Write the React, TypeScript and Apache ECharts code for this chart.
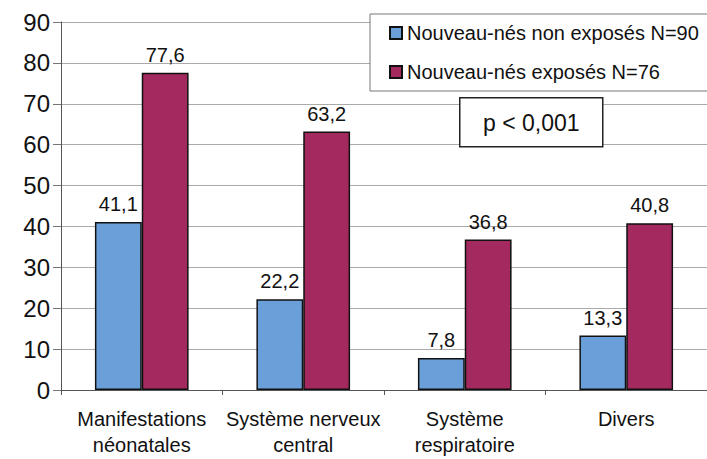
import React, { useEffect, useRef } from "react";
import * as echarts from "echarts";

const categories = [
  "Manifestations\nnéonatales",
  "Système nerveux\ncentral",
  "Système\nrespiratoire",
  "Divers",
];
const seriesNames = ["Nouveau-nés non exposés N=90", "Nouveau-nés exposés N=76"];
const nonExposed = [41.1, 22.2, 7.8, 13.3];
const exposed = [77.6, 63.2, 36.8, 40.8];
const yTicks = [0, 10, 20, 30, 40, 50, 60, 70, 80, 90];
const pText = "p < 0,001";

const FONT = "Liberation Sans, Arial, sans-serif";

export default function App() {
  const ref = useRef<HTMLDivElement>(null);
  useEffect(() => {
    if (!ref.current) return;
    const chart = echarts.init(ref.current, null, { renderer: "svg" });
    const label = {
      show: true,
      position: "top",
      distance: 8,
      color: "#111",
      fontFamily: FONT,
      fontSize: 20,
      formatter: (p: any) => String(p.value).replace(".", ","),
    };
    chart.setOption({
      animation: false,
      backgroundColor: "#fff",
      textStyle: { fontFamily: FONT },
      grid: { left: 61, top: 22, width: 656, height: 368 },
      legend: {
        orient: "vertical",
        left: 370,
        top: 14,
        data: seriesNames,
        itemWidth: 12,
        itemHeight: 12,
        itemGap: 19,
        borderColor: "#777",
        borderWidth: 1,
        padding: [9, 30, 9, 19],
        backgroundColor: "#fff",
        textStyle: { fontSize: 20, color: "#111", fontFamily: FONT },
        icon: "rect",
      },
      graphic: [
        {
          type: "group",
          left: 459,
          top: 97,
          z: 100,
          children: [
            {
              type: "rect",
              z: 100,
              shape: { x: 0, y: 0, width: 143, height: 49 },
              style: { fill: "#fff", stroke: "#222", lineWidth: 1.5 },
            },
            {
              type: "text",
              z: 101,
              x: 71.5,
              y: 25,
              style: {
                text: pText,
                fill: "#111",
                fontSize: 23,
                fontFamily: FONT,
                align: "center",
                verticalAlign: "middle",
              },
            },
          ],
        },
      ],
      xAxis: {
        type: "category",
        data: categories,
        axisLine: { lineStyle: { color: "#555", width: 1 } },
        axisTick: { show: true, length: 5, interval: 0, lineStyle: { color: "#555" } },
        axisLabel: {
          interval: 0,
          margin: 16,
          fontSize: 20,
          lineHeight: 26,
          color: "#111",
          fontFamily: FONT,
        },
      },
      yAxis: {
        type: "value",
        min: 0,
        max: 90,
        interval: 10,
        axisLine: { show: true, lineStyle: { color: "#555", width: 1 } },
        axisTick: { show: true, length: 8, lineStyle: { color: "#777" } },
        axisLabel: {
          margin: 11,
          fontSize: 24,
          color: "#111",
          fontFamily: FONT,
          formatter: (v: number) => (yTicks.includes(v) ? String(v) : ""),
        },
        splitLine: { show: true, lineStyle: { color: "#aaa", width: 1 } },
      },
      series: [
        {
          name: seriesNames[0],
          type: "bar",
          data: nonExposed,
          barGap: "0%",
          barCategoryGap: "42%",
          itemStyle: { color: "#6a9fd9", borderColor: "#111", borderWidth: 1.5 },
          label,
        },
        {
          name: seriesNames[1],
          type: "bar",
          data: exposed,
          itemStyle: { color: "#a3295e", borderColor: "#111", borderWidth: 1.5 },
          label,
        },
      ],
    });
    return () => chart.dispose();
  }, []);
  return (
    <div
      ref={ref}
      style={{ position: "fixed", left: 0, top: 0, width: 707, height: 459 }}
    />
  );
}
